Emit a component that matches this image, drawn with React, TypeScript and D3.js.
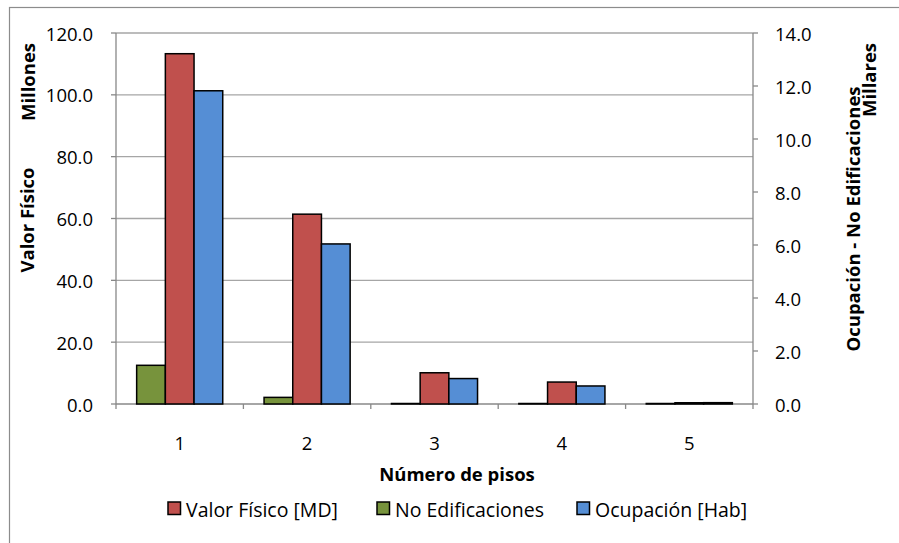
import React, { useEffect, useRef } from 'react';
import * as d3 from 'd3';

// data
const categories = ['1', '2', '3', '4', '5'];
const valorFisico = [113.3, 61.4, 10.1, 7.1, 0.4]; // millones, left axis
const noEdificaciones = [1.46, 0.25, 0, 0, 0]; // millares, right axis
const ocupacion = [11.82, 6.04, 0.96, 0.68, 0.05]; // millares, right axis
const leftTicks = [0, 20, 40, 60, 80, 100, 120];
const rightTicks = [0, 2, 4, 6, 8, 10, 12, 14];

const FONT = "'Open Sans', 'Noto Sans', sans-serif";

const App = () => {
  const svgRef = useRef(null);

  useEffect(() => {
    const width = 899;
    const height = 543;
    const plot = { left: 116, right: 753, top: 33, bottom: 404 };
    const chartCenter = 457;

    const svg = d3.select(svgRef.current).attr('width', width).attr('height', height);
    svg.selectAll('*').remove();

    // outer chart border
    svg.append('rect')
      .attr('x', 9.5).attr('y', 7.5)
      .attr('width', 900).attr('height', 560)
      .attr('fill', '#fff')
      .attr('stroke', '#8c8c8c')
      .attr('stroke-width', 1.2);

    const x0 = d3.scaleBand().domain(categories).range([plot.left, plot.right]).padding(0);
    const seriesKeys = ['edif', 'valor', 'ocup'];
    const x1 = d3.scaleBand().domain(seriesKeys).range([0, x0.bandwidth()])
      .paddingInner(0).paddingOuter(0.72);
    const yLeft = d3.scaleLinear().domain([0, 120]).range([plot.bottom, plot.top]);
    const yRight = d3.scaleLinear().domain([0, 14]).range([plot.bottom, plot.top]);

    // gridlines
    svg.append('g')
      .selectAll('line')
      .data(leftTicks.filter((d) => d > 0))
      .join('line')
      .attr('x1', plot.left).attr('x2', plot.right)
      .attr('y1', (d) => yLeft(d)).attr('y2', (d) => yLeft(d))
      .attr('stroke', '#a6a6a6')
      .attr('stroke-width', 1.3);

    // left axis
    const leftAxis = svg.append('g');
    leftAxis.append('line')
      .attr('x1', plot.left).attr('x2', plot.left)
      .attr('y1', plot.top).attr('y2', plot.bottom)
      .attr('stroke', '#888').attr('stroke-width', 1.3);
    leftTicks.forEach((t) => {
      leftAxis.append('line')
        .attr('x1', plot.left - 5).attr('x2', plot.left)
        .attr('y1', yLeft(t)).attr('y2', yLeft(t))
        .attr('stroke', '#888').attr('stroke-width', 1.3);
      leftAxis.append('text')
        .attr('x', 93).attr('y', yLeft(t))
        .attr('text-anchor', 'end')
        .attr('dominant-baseline', 'central')
        .attr('font-family', FONT).attr('font-size', 18.5)
        .text(d3.format('.1f')(t));
    });

    // right axis
    const rightAxis = svg.append('g');
    rightAxis.append('line')
      .attr('x1', plot.right).attr('x2', plot.right)
      .attr('y1', plot.top).attr('y2', plot.bottom)
      .attr('stroke', '#888').attr('stroke-width', 1.3);
    rightTicks.forEach((t) => {
      rightAxis.append('line')
        .attr('x1', plot.right).attr('x2', plot.right + 5)
        .attr('y1', yRight(t)).attr('y2', yRight(t))
        .attr('stroke', '#888').attr('stroke-width', 1.3);
      rightAxis.append('text')
        .attr('x', 775).attr('y', yRight(t))
        .attr('text-anchor', 'start')
        .attr('dominant-baseline', 'central')
        .attr('font-family', FONT).attr('font-size', 18.5)
        .text(d3.format('.1f')(t));
    });

    // x axis line (drawn before bars so the bar outlines sit on top)
    const xAxis = svg.append('g');
    xAxis.append('line')
      .attr('x1', plot.left).attr('x2', plot.right)
      .attr('y1', plot.bottom).attr('y2', plot.bottom)
      .attr('stroke', '#888').attr('stroke-width', 1.3);

    // bars - zero values still show as a flat outlined bar like Excel does
    const series = [
      { key: 'edif', values: noEdificaciones, scale: yRight, color: '#77933c' },
      { key: 'valor', values: valorFisico, scale: yLeft, color: '#c0504d' },
      { key: 'ocup', values: ocupacion, scale: yRight, color: '#558ed5' },
    ];
    const barGroup = svg.append('g');
    series.forEach((s) => {
      barGroup.selectAll(null)
        .data(categories)
        .join('rect')
        .attr('x', (c) => x0(c) + x1(s.key))
        .attr('width', x1.bandwidth())
        .attr('y', (c, i) => Math.min(s.scale(s.values[i]), plot.bottom - 0.5))
        .attr('height', (c, i) => Math.max(plot.bottom - s.scale(s.values[i]), 0.5))
        .attr('fill', s.color)
        .attr('stroke', '#000')
        .attr('stroke-width', 1.5);
    });

    // ticks at category boundaries
    const bounds = categories.map((c) => x0(c)).concat([plot.right]);
    bounds.forEach((bx) => {
      xAxis.append('line')
        .attr('x1', bx).attr('x2', bx)
        .attr('y1', plot.bottom).attr('y2', plot.bottom + 5)
        .attr('stroke', '#888').attr('stroke-width', 1.3);
    });
    categories.forEach((c) => {
      xAxis.append('text')
        .attr('x', x0(c) + x0.bandwidth() / 2).attr('y', 442)
        .attr('text-anchor', 'middle')
        .attr('dominant-baseline', 'central')
        .attr('font-family', FONT).attr('font-size', 18.5)
        .text(c);
    });

    // axis titles
    const title = (x, y, txt, rotate) => {
      svg.append('text')
        .attr('transform', `translate(${x},${y})${rotate ? ' rotate(-90)' : ''}`)
        .attr('text-anchor', 'middle')
        .attr('dominant-baseline', 'central')
        .attr('font-family', FONT).attr('font-size', 18.5).attr('font-weight', 'bold')
        .text(txt);
    };
    title(chartCenter, 473, 'Número de pisos', false);
    title(26, 220, 'Valor Físico', true);
    title(27, 82, 'Millones', true);
    title(852, 219, 'Ocupación - No Edificaciones', true);
    title(868, 80, 'Millares', true);

    // legend
    const legendItems = [
      { label: 'Valor Físico [MD]', color: '#c0504d', x: 168 },
      { label: 'No Edificaciones', color: '#77933c', x: 377 },
      { label: 'Ocupación [Hab]', color: '#558ed5', x: 577 },
    ];
    const legend = svg.append('g');
    legendItems.forEach((item) => {
      legend.append('rect')
        .attr('x', item.x).attr('y', 502)
        .attr('width', 12.5).attr('height', 12.5)
        .attr('fill', item.color)
        .attr('stroke', '#000').attr('stroke-width', 1.5);
      legend.append('text')
        .attr('x', item.x + 18).attr('y', 509)
        .attr('dominant-baseline', 'central')
        .attr('font-family', FONT).attr('font-size', 19.5)
        .text(item.label);
    });
  }, []);

  return <svg ref={svgRef} style={{ position: 'absolute', left: 0, top: 0 }} />;
};

export default App;
